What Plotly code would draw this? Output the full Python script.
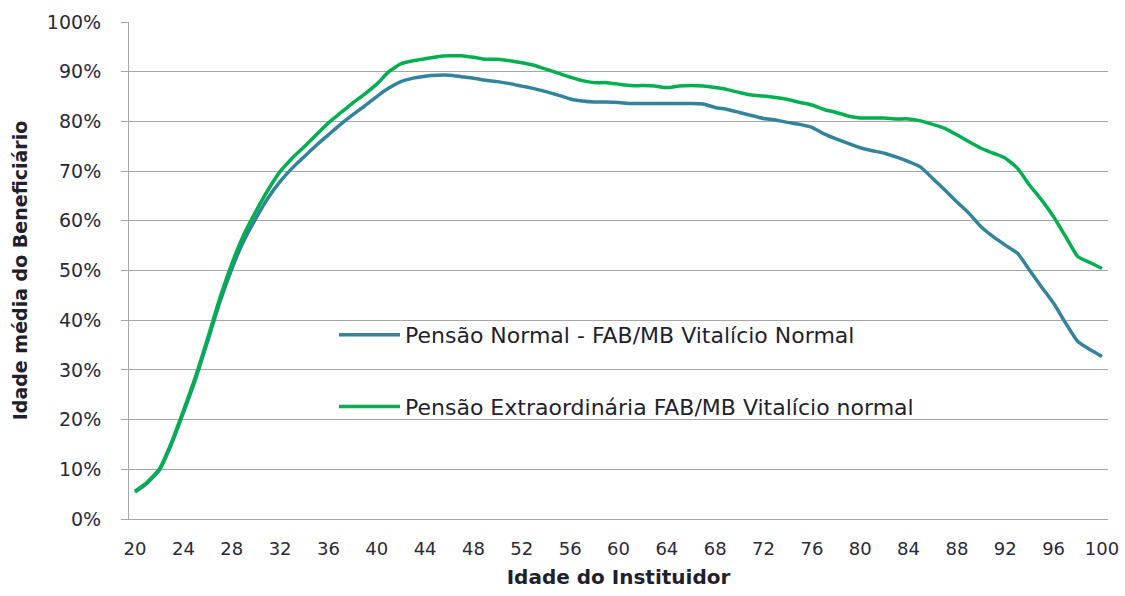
import plotly.graph_objects as go

ages = list(range(20, 101))
x_ticks = list(range(20, 101, 4))
y_ticks = [0, 0.1, 0.2, 0.3, 0.4, 0.5, 0.6, 0.7, 0.8, 0.9, 1.0]

normal_name = "Pensão Normal - FAB/MB Vitalício Normal"
extra_name = "Pensão Extraordinária FAB/MB Vitalício normal"

normal_pct = [5.4, 7.2, 9.8, 15.0, 21.4, 28.1, 35.7, 43.5, 50.3, 56.0,
              60.5, 64.6, 67.9, 70.6, 72.9, 75.2, 77.3, 79.4, 81.3, 83.1,
              85.0, 86.7, 88.0, 88.7, 89.1, 89.3, 89.3, 89.0, 88.7, 88.3,
              88.0, 87.6, 87.1, 86.6, 86.0, 85.3, 84.5, 84.1, 83.9, 83.9,
              83.8, 83.6, 83.6, 83.6, 83.6, 83.6, 83.6, 83.5, 82.8, 82.4,
              81.8, 81.2, 80.6, 80.3, 79.8, 79.4, 78.8, 77.5, 76.5, 75.6,
              74.7, 74.1, 73.6, 72.8, 71.9, 70.8, 68.5, 66.2, 63.8, 61.5,
              58.8, 56.8, 55.1, 53.5, 50.1, 46.7, 43.4, 39.4, 35.7, 34.1,
              32.7]

extra_pct = [5.6, 7.4, 10.0, 15.3, 21.8, 28.6, 36.3, 44.3, 51.3, 57.2,
             61.9, 66.2, 69.9, 72.6, 74.9, 77.3, 79.7, 81.7, 83.7, 85.5,
             87.5, 90.0, 91.6, 92.2, 92.6, 93.0, 93.2, 93.2, 92.9, 92.5,
             92.5, 92.2, 91.8, 91.3, 90.5, 89.7, 88.9, 88.2, 87.8, 87.8,
             87.5, 87.2, 87.2, 87.1, 86.8, 87.1, 87.2, 87.1, 86.8, 86.4,
             85.8, 85.3, 85.1, 84.8, 84.4, 83.8, 83.3, 82.4, 81.8, 81.1,
             80.7, 80.7, 80.7, 80.5, 80.5, 80.1, 79.4, 78.6, 77.3, 75.9,
             74.6, 73.6, 72.6, 70.6, 67.2, 64.2, 60.8, 56.8, 52.8, 51.6,
             50.4]

BLUE = "#31849B"
GREEN = "#00B050"
FONT = "DejaVu Sans"
TXT = "#1f1f2e"

fig = go.Figure()
fig.add_trace(go.Scatter(
    x=ages, y=[v / 100 for v in normal_pct], name=normal_name, mode="lines",
    line=dict(color=BLUE, width=3.5, shape="spline", smoothing=0.5),
    legendgroup="a"))
fig.add_trace(go.Scatter(
    x=ages, y=[v / 100 for v in extra_pct], name=extra_name, mode="lines",
    line=dict(color=GREEN, width=3.5, shape="spline", smoothing=0.5),
    legendgroup="b"))

fig.update_layout(
    width=1125, height=596,
    margin=dict(l=129, r=17, t=22, b=77),
    paper_bgcolor="white", plot_bgcolor="white",
    font=dict(family=FONT, color=TXT),
    showlegend=True,
    legend=dict(x=0.2094, y=0.4125, xanchor="left", yanchor="top",
                bgcolor="rgba(0,0,0,0)", font=dict(size=22, color=TXT, family=FONT),
                tracegroupgap=40, traceorder="grouped", itemwidth=61),
    xaxis=dict(range=[19.5, 100.5], tickmode="array", tickvals=x_ticks,
               ticktext=[str(v) for v in x_ticks],
               showgrid=False, zeroline=False, showline=True,
               linecolor="#A6A6A6", linewidth=1, ticks="", automargin=False,
               ticklabelstandoff=13,
               tickfont=dict(size=18, color="#2a2a3a", family=FONT),
               title=dict(text="<b>Idade do Instituidor</b>", standoff=12,
                          font=dict(size=20, color=TXT, family=FONT))),
    yaxis=dict(range=[0, 1.0], tickmode="array", tickvals=y_ticks,
               tickformat=".0%", showgrid=True, gridcolor="#A6A6A6", gridwidth=1,
               zeroline=False, showline=True, linecolor="#A6A6A6", linewidth=1,
               ticks="outside", ticklen=7, tickcolor="#A6A6A6", automargin=False,
               ticklabelstandoff=16,
               tickfont=dict(size=19, color="#2a2a3a", family=FONT),
               title=dict(text="<b>Idade média do Beneficiário</b>", standoff=14,
                          font=dict(size=19, color=TXT, family=FONT))),
)

fig.write_html("out.html",
               config={"displayModeBar": False},
               post_script="document.body.style.margin='0';document.body.style.overflow='hidden';")
